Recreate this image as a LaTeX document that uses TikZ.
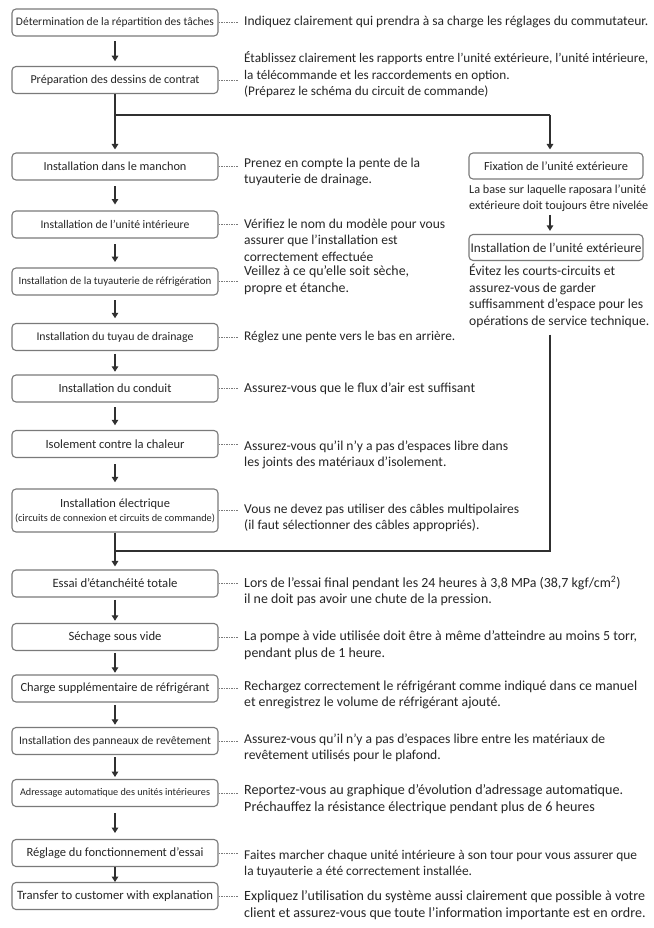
\documentclass[tikz,border=0pt]{standalone}
\usepackage{fontspec}
\setmainfont{Carlito}
\usetikzlibrary{arrows.meta,calc}
\definecolor{boxgray}{HTML}{7A7A7A}
\definecolor{textdark}{HTML}{262626}
\definecolor{linedark}{HTML}{303030}
\newlength\fitlen
\newcommand\fitsize[2]{\settowidth\fitlen{\fontsize{10}{12}\selectfont #2}\pgfmathsetmacro\fs{10*#1/\fitlen}}
\newcommand\fitlabel[2]{\fitsize{#1}{#2}{\fontsize{\fs}{\fs}\selectfont #2}}
% name, x, y, target width, sample line, full text
\newcommand\descnode[6]{\node[desc, font={\fitsize{#4}{#5}\fontsize{\fs}{16.5}\selectfont}] (#1) at (#2,#3) {#6};}
\begin{document}
\begin{tikzpicture}[x=1pt,y=-1pt]
\tikzset{
 box/.style={draw=boxgray, line width=1.1pt, rounded corners=4pt, minimum width=206pt, minimum height=27pt, inner sep=1pt, text=textdark, align=center},
 rbox/.style={box, minimum width=174pt, minimum height=26pt},
 desc/.style={anchor=west, inner sep=0pt, align=left, text=textdark},
 link/.style={draw=boxgray, dash pattern=on 1.5pt off 1pt, line width=0.8pt},
 arr/.style={draw=linedark, line width=2pt, -{Triangle[length=5.5pt,width=6.5pt]}},
 trunk/.style={draw=linedark, line width=2pt},
}
\path[use as bounding box, fill=white] (0,0) rectangle (653,928);

% left column boxes
\node[box] (b1) at (115,22.5) {\fitlabel{198}{Détermination de la répartition des tâches}};
\node[box] (b2) at (115,80) {\fitlabel{169}{Préparation des dessins de contrat}};
\node[box] (b3) at (115,166.5) {\fitlabel{143}{Installation dans le manchon}};
\node[box] (b4) at (115,224.5) {\fitlabel{149}{Installation de l'unité intérieure}};
\node[box] (b5) at (115,281.5) {\fitlabel{193}{Installation de la tuyauterie de réfrigération}};
\node[box] (b6) at (115,337) {\fitlabel{157}{Installation du tuyau de drainage}};
\node[box] (b7) at (115,388.5) {\fitlabel{113}{Installation du conduit}};
\node[box] (b8) at (115,444) {\fitlabel{139}{Isolement contre la chaleur}};
\node[box, minimum height=43pt] (b9) at (115,510.5) {\fitlabel{110}{Installation électrique}\\[2pt]\fitlabel{200}{(circuits de connexion et circuits de commande)}};
\node[box] (b10) at (115,583.5) {\fitlabel{125}{Essai d'étanchéité totale}};
\node[box] (b11) at (115,637) {\fitlabel{93}{Séchage sous vide}};
\node[box] (b12) at (115,688.5) {\fitlabel{189}{Charge supplémentaire de réfrigérant}};
\node[box] (b13) at (115,741) {\fitlabel{192}{Installation des panneaux de revêtement}};
\node[box] (b14) at (115,793) {\fitlabel{190}{Adressage automatique des unités intérieures}};
\node[box] (b15) at (115,853) {\fitlabel{177}{Réglage du fonctionnement d'essai}};
\node[box] (b16) at (115,896) {\fitlabel{196}{Transfer to customer with explanation}};

% right column
\node[rbox] (f1) at (556,166) {\fitlabel{144}{Fixation de l'unité extérieure}};
\descnode{r1}{469}{198}{177}{La base sur laquelle raposara l'unité}{La base sur laquelle raposara l'unité\\extérieure doit toujours être nivelée}
\node[rbox] (f2) at (556,247.5) {\fitlabel{171}{Installation de l'unité extérieure}};
\descnode{r2}{469}{296}{174}{suffisamment d'espace pour les}{Évitez les courts-circuits et\\assurez-vous de garder\\suffisamment d'espace pour les\\opérations de service technique.}

% descriptions
\descnode{d1}{244}{22}{404}{Indiquez clairement qui prendra à sa charge les réglages du commutateur.}{Indiquez clairement qui prendra à sa charge les réglages du commutateur.}
\descnode{d2}{244}{75}{404}{Établissez clairement les rapports entre l'unité extérieure, l'unité intérieure,}{Établissez clairement les rapports entre l'unité extérieure, l'unité intérieure,\\la télécommande et les raccordements en option.\\(Préparez le schéma du circuit de commande)}
\descnode{d3}{244}{172}{176}{Prenez en compte la pente de la}{Prenez en compte la pente de la\\tuyauterie de drainage.}
\descnode{d4}{244}{240}{201}{Vérifiez le nom du modèle pour vous}{Vérifiez le nom du modèle pour vous\\assurer que l'installation est\\correctement effectuée}
\descnode{d5}{244}{280}{165}{Veillez à ce qu'elle soit sèche,}{Veillez à ce qu'elle soit sèche,\\propre et étanche.}
\descnode{d6}{244}{337}{211}{Réglez une pente vers le bas en arrière.}{Réglez une pente vers le bas en arrière.}
\descnode{d7}{244}{389}{231}{Assurez-vous que le flux d'air est suffisant}{Assurez-vous que le flux d'air est suffisant}
\descnode{d8}{244}{455}{264}{Assurez-vous qu'il n'y a pas d'espaces libre dans}{Assurez-vous qu'il n'y a pas d'espaces libre dans\\les joints des matériaux d'isolement.}
\descnode{d9}{244}{518}{275}{Vous ne devez pas utiliser des câbles multipolaires}{Vous ne devez pas utiliser des câbles multipolaires\\(il faut sélectionner des câbles appropriés).}
\descnode{d10}{244}{591}{378}{Lors de l'essai final pendant les 24 heures à 3,8 MPa (38,7 kgf/cm2)}{Lors de l'essai final pendant les 24 heures à 3,8 MPa (38,7 kgf/cm\textsuperscript{2})\\il ne doit pas avoir une chute de la pression.}
\descnode{d11}{244}{645}{393}{La pompe à vide utilisée doit être à même d'atteindre au moins 5 torr,}{La pompe à vide utilisée doit être à même d'atteindre au moins 5 torr,\\pendant plus de 1 heure.}
\descnode{d12}{244}{695}{393}{Rechargez correctement le réfrigérant comme indiqué dans ce manuel}{Rechargez correctement le réfrigérant comme indiqué dans ce manuel\\et enregistrez le volume de réfrigérant ajouté.}
\descnode{d13}{244}{748}{361}{Assurez-vous qu'il n'y a pas d'espaces libre entre les matériaux de}{Assurez-vous qu'il n'y a pas d'espaces libre entre les matériaux de\\revêtement utilisés pour le plafond.}
\descnode{d14}{244}{799}{379}{Reportez-vous au graphique d'évolution d'adressage automatique.}{Reportez-vous au graphique d'évolution d'adressage automatique.\\Préchauffez la résistance électrique pendant plus de 6 heures}
\descnode{d15}{244}{864}{393}{Faites marcher chaque unité intérieure à son tour pour vous assurer que}{Faites marcher chaque unité intérieure à son tour pour vous assurer que\\la tuyauterie a été correctement installée.}
\descnode{d16}{244}{905}{401}{Expliquez l'utilisation du système aussi clairement que possible à votre}{Expliquez l'utilisation du système aussi clairement que possible à votre\\client et assurez-vous que toute l'information importante est en ordre.}

% dotted links
\foreach \i in {1,...,16} {
  \draw[link] (b\i.east) -- ++(20,0);
}

% arrows between boxes (centred in the gap)
\foreach \a/\b/\l in {b1/b2/20,b3/b4/18,b4/b5/18,b5/b6/18,b6/b7/18,b7/b8/18,b8/b9/18,b10/b11/21,b11/b12/20,b12/b13/20,b13/b14/20,b14/b15/20,b15/b16/15} {
  \draw[arr] ($(\a.south)!0.5!(\b.north)+(0,-\l/2)$) -- ++(0,\l);
}

% branch after b2
\coordinate (j1) at (115,115);
\coordinate (k1) at (550,115);
\draw[arr, shorten >=3pt] (b2) -- (b3);
\draw[trunk] (j1) -- (k1);
\draw[arr, shorten >=3pt] (k1) -- (k1 |- f1.north);
\draw[arr] ($(k1 |- r1.south)!0.5!(k1 |- f2.north)+(0,-8)$) -- ++(0,16);

% merge before b10
\coordinate (k2) at (550,551);
\coordinate (j2) at (115,551);
\draw[trunk] ($(k1 |- r2.south)+(0,7)$) -- (k2) -- (j2);
\draw[arr, shorten >=3pt] (b9) -- (b10);
\end{tikzpicture}
\end{document}
